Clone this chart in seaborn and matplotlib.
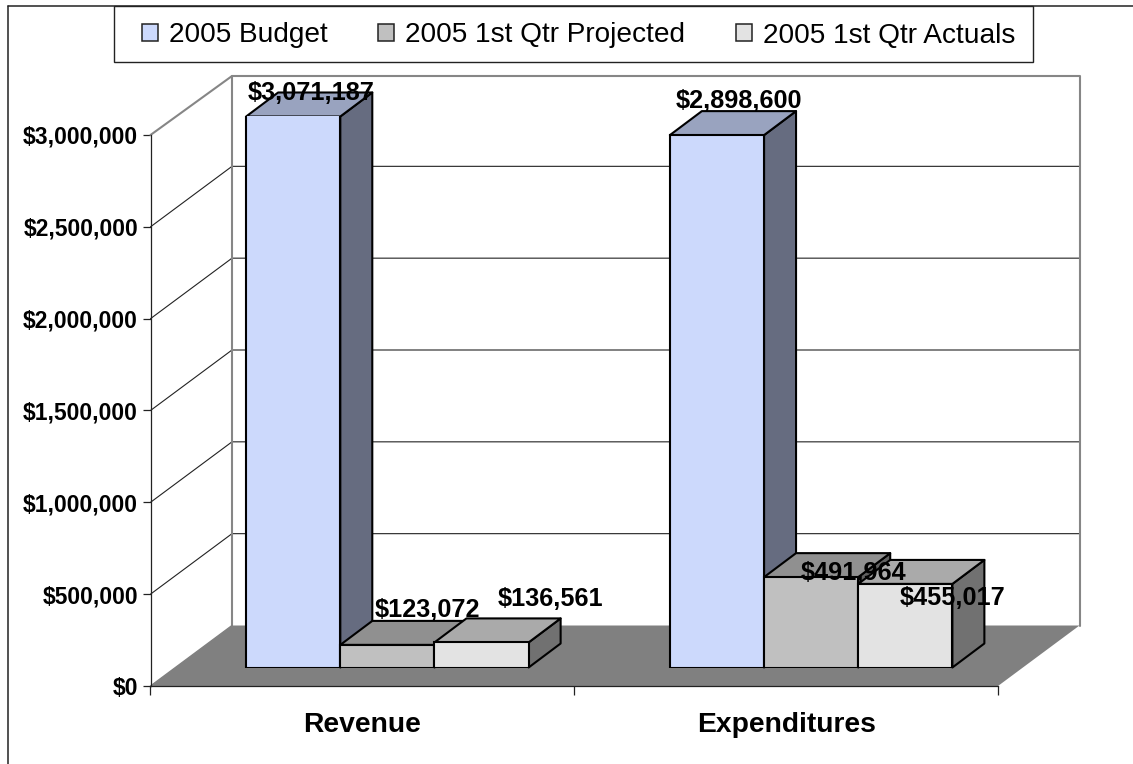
import matplotlib
matplotlib.use("Agg")
import matplotlib.pyplot as plt
import pandas as pd
import seaborn as sns
from matplotlib.lines import Line2D
from matplotlib.patches import Patch, Polygon, Rectangle

categories = ["Revenue", "Expenditures"]
series = ["2005 Budget", "2005 1st Qtr Projected", "2005 1st Qtr Actuals"]
budget = [3071187, 2898600]
projected = [123072, 491964]
actuals = [136561, 455017]

face_colors = ["#CCD9FC", "#C0C0C0", "#E3E3E3"]
top_colors = ["#99A3BF", "#909090", "#AAAAAA"]
side_colors = ["#666C80", "#606060", "#717171"]

y_max = 3000000
y_ticks = [0, 500000, 1000000, 1500000, 2000000, 2500000, 3000000]

# label offsets from the centre of each bar's top edge, in pixels (x right, y up)
label_offsets = {
    "2005 Budget": [(18, 23), (22, 34)],
    "2005 1st Qtr Projected": [(40, 35), (42, 4)],
    "2005 1st Qtr Actuals": [(69, 43), (47, -14)],
}

W, H = 1133, 764
sns.set_theme(style="white")
plt.rcParams["font.family"] = ["Liberation Sans", "DejaVu Sans"]

fig = plt.figure(figsize=(W / 100, H / 100), dpi=100, facecolor="white")


def axes_at(left, bottom, right, top):
    """Axes placed by pixel edges, measured from the top-left corner."""
    return fig.add_axes([left / W, 1 - bottom / H, (right - left) / W, (bottom - top) / H])


PLOT_L, PLOT_R, PLOT_B, PLOT_T = 150.5, 998, 686, 135
ax = axes_at(PLOT_L, PLOT_B, PLOT_R, PLOT_T)
ax.set_xlim(-0.5, 1.5)
ax.set_ylim(0, y_max)
ax.patch.set_alpha(0)

x_per_px = 2 / (PLOT_R - PLOT_L)
y_per_px = y_max / (PLOT_B - PLOT_T)

# Back wall, side wall and floor, pushed back by the chart's depth
wall_dx, wall_dy = 81.5 * x_per_px, 60.5 * y_per_px
wall_top = y_max + wall_dy - 1.5 * y_per_px
wall_grey = "#868686"
ax.add_patch(Polygon(
    [(-0.5, 0), (1.5, 0), (1.5 + wall_dx, wall_dy), (-0.5 + wall_dx, wall_dy)],
    closed=True, fc="#808080", ec="none", zorder=1, clip_on=False))
for tick in y_ticks[1:-1]:
    ax.plot([-0.5, -0.5 + wall_dx, 1.5 + wall_dx], [tick, tick + wall_dy, tick + wall_dy],
            color="#222222", lw=0.8, zorder=0.8, clip_on=False)
ax.plot([-0.5, -0.5 + wall_dx, -0.5 + wall_dx], [y_max, wall_top, wall_dy],
        color=wall_grey, lw=1.5, zorder=0.9, clip_on=False)
ax.plot([-0.5 + wall_dx, 1.5 + wall_dx, 1.5 + wall_dx],
        [wall_top, wall_top, wall_dy],
        color=wall_grey, lw=1.5, zorder=0.9, clip_on=False)
ax.plot([-0.5, -0.5 + wall_dx], [0, wall_dy], color="#808080", lw=1, zorder=1.1, clip_on=False)

# Axes furniture on the front plane
sns.despine(ax=ax, top=True, right=True)
for side in ("left", "bottom"):
    ax.spines[side].set_color("#222222")
    ax.spines[side].set_linewidth(0.9)
    ax.spines[side].set_zorder(1.2)
ax.set_yticks(y_ticks, [f"${t:,.0f}" for t in y_ticks])
ax.set_xticks([-0.5, 0.5, 1.5], ["", "", ""])
ax.set_xticks([0, 1], categories, minor=True)
ax.tick_params(axis="y", which="major", left=True, length=6, width=0.9, color="#222222",
               pad=3, labelsize=16.5, labelcolor="black")
ax.tick_params(axis="x", which="major", bottom=True, length=6.5, width=0.9, color="#222222")
ax.tick_params(axis="x", which="minor", bottom=False, length=0, pad=19, labelsize=20.3,
               labelcolor="black")
for label in ax.get_yticklabels() + ax.get_xticklabels(minor=True):
    label.set_fontweight("bold")

# Bars stand on the middle of the floor, so their axes is shifted off the front plane
SHIFT_X, SHIFT_Y = 25, 18.5
ax_bars = axes_at(PLOT_L + SHIFT_X, PLOT_B - SHIFT_Y, PLOT_R + SHIFT_X, PLOT_T - SHIFT_Y)
ax_bars.patch.set_alpha(0)

table = pd.DataFrame({
    "category": categories * 3,
    "series": [name for name in series for _ in categories],
    "value": budget + projected + actuals,
})
sns.barplot(data=table, x="category", y="value", hue="series", hue_order=series,
            order=categories, palette=face_colors, width=2 / 3, gap=0, saturation=1,
            edgecolor="black", linewidth=1.5, legend=False, ax=ax_bars, zorder=6)
ax_bars.set_xlim(-0.5, 1.5)
ax_bars.set_ylim(0, y_max)
ax_bars.axis("off")

# Extrude every bar: a top face and a side face, plus its value label
bar_dx, bar_dy = 32 * x_per_px, 24 * y_per_px
for i, name in enumerate(series):
    rows = table[table["series"] == name]
    for bar, value, cat_idx in zip(ax_bars.containers[i], rows["value"], range(len(categories))):
        x0, x1 = bar.get_x(), bar.get_x() + bar.get_width()
        top = min(value, y_max)
        order = 3 + x0
        ax_bars.add_patch(Polygon(
            [(x1, 0), (x1 + bar_dx, bar_dy), (x1 + bar_dx, top + bar_dy), (x1, top)],
            closed=True, fc=side_colors[i], ec="black", lw=1.5, joinstyle="round",
            zorder=order, clip_on=False))
        ax_bars.add_patch(Polygon(
            [(x0, top), (x1, top), (x1 + bar_dx, top + bar_dy), (x0 + bar_dx, top + bar_dy)],
            closed=True, fc=top_colors[i], ec="black", lw=1.5, joinstyle="round",
            zorder=order + 0.01, clip_on=False))
        ax_bars.annotate(f"${value:,.0f}", xy=((x0 + x1) / 2, top),
                         xytext=label_offsets[name][cat_idx], textcoords="offset pixels",
                         ha="center", va="center", fontsize=18.2, fontweight="bold",
                         color="black", zorder=10, annotation_clip=False)

# Chart frame: only its top and left edges fall inside the image
frame_x, frame_y = 8 / W, 1 - 6 / H
fig.add_artist(Line2D([frame_x, 1], [frame_y, frame_y], color="#222222", lw=1.1,
                      transform=fig.transFigure))
fig.add_artist(Line2D([frame_x, frame_x], [0, frame_y], color="#222222", lw=1.1,
                      transform=fig.transFigure))

# Legend box hanging from the top frame line
fig.add_artist(Rectangle((114 / W, 1 - 61.5 / H), (1033 - 114) / W, 55.5 / H,
                         transform=fig.transFigure, fc="white", ec="#222222", lw=1))
handles = [Patch(facecolor=c, edgecolor="#222222", linewidth=1.1) for c in face_colors]
fig.legend(handles, series, loc="center", bbox_to_anchor=((119 + 1038) / 2 / W, 1 - 35.5 / H),
           ncols=3, frameon=False, fontsize=20.2, handlelength=0.58, handleheight=0.58,
           handletextpad=0.38, columnspacing=1.81, labelcolor="black", borderpad=0)

fig.savefig("out.png", dpi=100, facecolor="white")
